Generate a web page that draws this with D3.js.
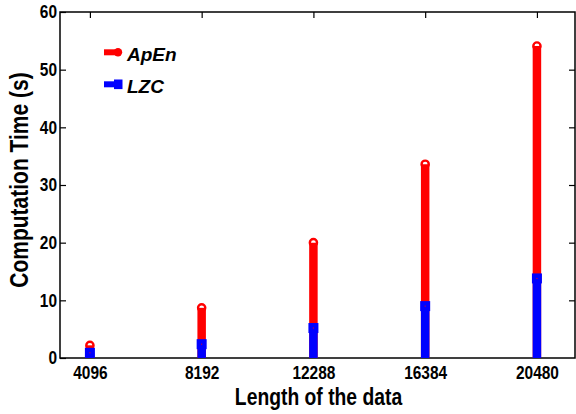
<!DOCTYPE html>
<html>
<head>
<meta charset="utf-8">
<script src="https://cdn.jsdelivr.net/npm/d3@7"></script>
<style>
  body { margin: 0; background: #fff; }
  svg text { font-family: "Liberation Sans", Arial, Helvetica, sans-serif; font-weight: bold; fill: #000; }
</style>
</head>
<body>
<div id="chart"></div>
<script>
const width = 576;
const height = 414;

// data
const lengths = [4096, 8192, 12288, 16384, 20480];
const apen = [2.2, 8.7, 20.0, 33.6, 54.1];
const lzc = [0.9, 2.4, 5.2, 9.0, 13.8];
const yTicks = [0, 10, 20, 30, 40, 50, 60];

const plotLeft = 60, plotRight = 575, plotTop = 12, plotBottom = 358;
const squeeze = 0.86; // the original font is a narrow Helvetica

const x = d3.scaleLinear().domain([3000, 22000]).range([plotLeft, plotLeft + (578.5 - 60.1)]);
const y = d3.scaleLinear().domain([0, 60]).range([plotBottom, plotTop]);

const svg = d3.select('#chart').append('svg')
    .attr('width', width)
    .attr('height', height);

// axes box
svg.append('rect')
    .attr('x', plotLeft).attr('y', plotTop)
    .attr('width', plotRight - plotLeft).attr('height', plotBottom - plotTop)
    .attr('fill', 'none').attr('stroke', '#000').attr('stroke-width', 1.5);

// ticks, inside on all four sides
const yAxisL = d3.axisLeft(y).tickValues(yTicks).tickSizeInner(-6).tickSizeOuter(0).tickPadding(3);
const gl = svg.append('g').attr('transform', `translate(${plotLeft},0)`).call(yAxisL);
gl.select('.domain').remove();
gl.attr('font-family', null).attr('font-size', 18);
gl.selectAll('text')
    .attr('x', -3 / squeeze)
    .attr('transform', `scale(${squeeze},1)`);

const yAxisR = d3.axisRight(y).tickValues(yTicks.slice(1, -1)).tickSizeInner(-6).tickSizeOuter(0).tickFormat('');
const gr = svg.append('g').attr('transform', `translate(${plotRight},0)`).call(yAxisR);
gr.select('.domain').remove();

const xAxisB = d3.axisBottom(x).tickValues(lengths).tickSizeInner(-6).tickSizeOuter(0).tickPadding(8).tickFormat(d3.format('d'));
const gb = svg.append('g').attr('transform', `translate(0,${plotBottom})`).call(xAxisB);
gb.select('.domain').remove();
gb.attr('font-family', null).attr('font-size', 18);
gb.selectAll('text').attr('transform', `scale(${squeeze},1)`);

const xAxisT = d3.axisTop(x).tickValues(lengths).tickSizeInner(-6).tickSizeOuter(0).tickFormat('');
const gt = svg.append('g').attr('transform', `translate(0,${plotTop})`).call(xAxisT);
gt.select('.domain').remove();

svg.selectAll('.tick line').attr('stroke', '#000').attr('stroke-width', 1.2);

// ApEn: open circle, stem drawn over its lower half
svg.selectAll('.apen-mark').data(lengths).enter().append('circle')
    .attr('class', 'apen-mark')
    .attr('cx', d => x(d)).attr('cy', (d, i) => y(apen[i]))
    .attr('r', 3.6)
    .attr('fill', 'none').attr('stroke', '#ff0000').attr('stroke-width', 2.4);

svg.selectAll('.apen-stem').data(lengths).enter().append('line')
    .attr('class', 'apen-stem')
    .attr('x1', d => x(d)).attr('x2', d => x(d))
    .attr('y1', y(0)).attr('y2', (d, i) => y(apen[i]))
    .attr('stroke', '#ff0000').attr('stroke-width', 8.5);

// LZC stems and square markers
svg.selectAll('.lzc-stem').data(lengths).enter().append('line')
    .attr('class', 'lzc-stem')
    .attr('x1', d => x(d)).attr('x2', d => x(d))
    .attr('y1', y(0)).attr('y2', (d, i) => y(lzc[i]))
    .attr('stroke', '#0000ff').attr('stroke-width', 8.5);

svg.selectAll('.lzc-mark').data(lengths).enter().append('rect')
    .attr('class', 'lzc-mark')
    .attr('x', d => x(d) - 5).attr('y', (d, i) => y(lzc[i]) - 5)
    .attr('width', 10).attr('height', 10)
    .attr('fill', '#0000ff');

svg.selectAll('.lzc-dot').data(lengths).enter().append('rect')
    .attr('class', 'lzc-dot')
    .attr('x', d => x(d) - 0.5).attr('y', (d, i) => y(lzc[i]) - 0.5)
    .attr('width', 1).attr('height', 1)
    .attr('fill', '#ff0000');

// legend
const legendData = [
    { label: 'ApEn', color: '#ff0000', marker: 'circle' },
    { label: 'LZC', color: '#0000ff', marker: 'square' }
];
const legend = svg.append('g').attr('transform', 'translate(104, 52.3)');
legendData.forEach((d, i) => {
    const g = legend.append('g').attr('transform', `translate(0, ${i * 32})`);
    g.append('line').attr('x1', 0).attr('x2', 14).attr('y1', 0).attr('y2', 0)
        .attr('stroke', d.color).attr('stroke-width', 6);
    if (d.marker === 'circle') {
        g.append('circle').attr('cx', 14).attr('cy', 0).attr('r', 4.2).attr('fill', d.color);
    } else {
        g.append('rect').attr('x', 10).attr('y', -4.8).attr('width', 8.5).attr('height', 9.6).attr('fill', d.color);
    }
    g.append('text').attr('x', 23).attr('y', 8.2)
        .attr('font-size', 19).attr('font-style', 'italic')
        .text(d.label);
});

// axis titles
const xTitleX = (plotLeft + plotRight) / 2 + 1;
svg.append('text')
    .attr('transform', `translate(${xTitleX}, 405) scale(0.84,1)`)
    .attr('text-anchor', 'middle').attr('font-size', 23)
    .text('Length of the data');

svg.append('text')
    .attr('transform', `translate(28, 180) rotate(-90) scale(0.84,1)`)
    .attr('text-anchor', 'middle').attr('font-size', 25)
    .text('Computation Time (s)');
</script>
</body>
</html>
